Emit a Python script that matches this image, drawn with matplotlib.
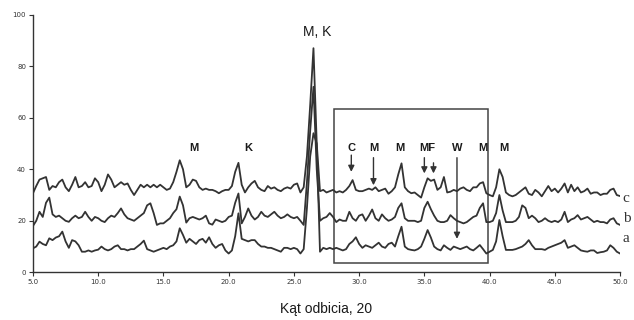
import matplotlib

matplotlib.use("Agg")
import matplotlib.pyplot as plt
import numpy as np
from matplotlib.patches import Rectangle

# diffraction angle grid, 0.25 deg step from 5 to 50
angle = np.linspace(5.0, 50.0, 181)

trace_c = [
    30.7, 33.5, 36, 36.5, 37, 32, 33.5, 33, 35, 36, 33, 31.5,
    34, 37, 33, 33.5, 35, 33, 33.5, 36.5, 35, 31.5, 34, 38,
    36, 33, 34, 35, 34, 34.5, 32, 30, 32, 34, 33, 34,
    33, 34, 33, 34, 33, 32, 32.5, 35, 39, 43.5, 40, 33,
    34, 36, 35.5, 33, 32, 32.5, 32, 32, 31.5, 30.7, 31.5, 32,
    32, 33.5, 39, 42.5, 34, 31, 33, 34.5, 35.5, 33, 32, 31.5,
    33.5, 32.5, 33, 32, 31.5, 32.5, 33, 32.5, 34, 34.5, 31, 33,
    45, 65, 87, 50, 31.5, 32, 31, 31.5, 32, 31, 31.5, 31,
    32, 33.5, 35.8, 32, 31.5, 31.5, 32, 32.5, 32, 33, 31.5, 32,
    32.5, 30.5, 31.5, 33, 38, 42.3, 33, 31.5, 30.7, 31, 30, 29,
    33, 36.5, 35.5, 36, 32, 33, 37, 31, 31.3, 32, 31.5, 32.5,
    33, 32, 31.5, 33, 33, 34.5, 35, 30.7, 30, 29.5, 33, 40,
    37, 31, 30, 29.5, 30, 31, 32, 33, 30.5, 30, 32, 31,
    29.5, 31.5, 33.5, 31.5, 32.5, 31, 32.5, 34.5, 31, 34, 31.5, 33,
    31, 31.5, 32.5, 30.5, 31, 31, 30, 30.5, 30.5, 32, 32.5, 30,
    29.6,
]

trace_b = [
    18, 20, 23.5, 21.5, 27, 29, 22.5, 21.5, 22, 21, 20, 19.6,
    21, 22, 21, 21.5, 23.5, 21.5, 20, 21.5, 21, 20, 19.5, 21,
    22, 21.5, 23, 24.8, 22.5, 21, 20.5, 20, 21, 22, 23, 26,
    26.8, 23, 18.4, 19, 19, 20, 21, 23, 24.5, 29.4, 26, 19.3,
    21, 21.5, 21, 20.5, 21, 22, 19, 18.5, 20.5, 20, 19.5, 20,
    21.5, 22, 27, 30.6, 19, 21.5, 24.8, 22, 20.5, 21.5, 23.5, 22,
    21.5, 22.5, 23.5, 22, 21, 21.5, 22.5, 21.5, 21, 21.5, 20, 18.4,
    35, 55, 72, 40, 20, 21, 21.5, 23, 21.5, 19.5, 20.5, 20,
    20, 23.5, 21, 20, 22, 22.5, 20, 22, 24.4, 21, 20, 22.5,
    21, 20, 20.5, 21.5, 25, 26.8, 21, 20, 20, 20, 19.5, 20,
    25, 27.4, 24.5, 22, 20, 19.5, 19.5, 20, 22.2, 21, 20, 19.5,
    19, 19.5, 20.5, 21.5, 22, 25, 26.8, 19.5, 19.5, 20, 23, 30,
    24, 19.5, 19.5, 19.5, 20, 21.5, 26, 25, 21, 22, 21, 19.5,
    20, 21, 20, 19.5, 20, 19.5, 20.5, 23.5, 19.5, 20.5, 21, 22.2,
    20.5, 21, 21.5, 20.5, 19.5, 20, 19.5, 19.5, 19, 20.5, 21, 19,
    18.4,
]

trace_a = [
    9.3, 10, 11.9, 11, 10.5, 13.2, 12.5, 13.5, 14, 15.8, 12, 9.5,
    12.5, 12, 10.5, 8, 8, 8.5, 8, 8.5, 8.8, 10, 9, 8.5,
    9, 10, 10.5, 9, 9, 8.5, 9, 9, 10, 11, 12.3, 9,
    8.5, 8, 8.5, 9, 9.5, 9, 10, 10.5, 12, 17.1, 14.5, 11.5,
    13, 12, 11, 12.5, 13, 11.5, 13.6, 11, 9.5, 10.5, 11, 8.5,
    7.3, 8.5, 14, 22.9, 13, 12.5, 12, 12.5, 12.5, 11, 10, 10,
    9.5, 9.5, 9, 8.5, 8, 9.5, 9.5, 9, 9.5, 9, 7.3, 9,
    25, 45, 54, 50, 8, 9.5, 9, 9.5, 9, 9.5, 9, 8.5,
    9, 11, 12, 13.6, 11, 9.5, 10.5, 10, 9.5, 10.5, 11.5, 10,
    9.5, 11, 11.5, 10, 14, 17.7, 10, 9, 8.7, 8.5, 9, 10,
    13, 16.4, 13.5, 10, 9, 8.5, 10.5, 9.5, 8.7, 10, 9.5, 9,
    9.5, 10, 9, 8.5, 9.5, 10.6, 9, 7.3, 8, 8.7, 12, 20.3,
    14, 8.7, 8.7, 8.7, 9, 9.5, 10, 11, 12.5, 10.5, 9, 9,
    9, 8.7, 9.5, 10, 10.5, 11, 11.5, 12.5, 9.5, 10, 10.5, 9.5,
    8.5, 8.2, 8, 8.5, 8.5, 7.5, 7.8, 8, 8.5, 10.5, 9.5, 8,
    7.3,
]

series_names = ["c", "b", "a"]
series_label_y = [28.5, 21.0, 13.2]
x_ticks = [5, 10, 15, 20, 25, 30, 35, 40, 45, 50]
y_ticks = [0, 20, 40, 60, 80, 100]

# phase labels: (text, angle, intensity)
phase_labels = [
    ("M", 17.3, 46.5), ("K", 21.5, 46.5),
    ("C", 29.4, 46.5), ("M", 31.1, 46.5), ("M", 33.1, 46.5),
    ("MF", 35.2, 46.5), ("W", 37.5, 46.5), ("M", 39.5, 46.5),
    ("M", 41.1, 46.5),
]
# arrows: (angle, start, end)
arrows = [
    (29.4, 45.5, 39.0), (31.1, 44.5, 33.8), (35.0, 44.5, 38.4),
    (35.7, 42.5, 38.4), (37.5, 44.5, 13.0),
]
box = (28.1, 3.8, 39.9, 63.5)

fig = plt.figure(figsize=(6.34, 3.20), dpi=100, facecolor="white")
ax = fig.add_axes([0.052, 0.149, 0.926, 0.805])

line_kw = dict(color="#333333", linewidth=1.3, solid_joinstyle="round")
for y in (trace_a, trace_b, trace_c):
    ax.plot(angle, y, **line_kw)

ax.add_patch(Rectangle((box[0], box[1]), box[2] - box[0], box[3] - box[1],
                       fill=False, edgecolor="#444444", linewidth=1.1))

for txt, xx, yy in phase_labels:
    ax.text(xx, yy, txt, ha="center", va="bottom", fontsize=8,
            fontweight="bold", family="Liberation Sans", color="#1a1a1a")
ax.text(26.8, 90.5, "M, K", ha="center", va="bottom", fontsize=10,
        family="Liberation Sans", color="#1a1a1a")

for xx, y0, y1 in arrows:
    ax.annotate("", xy=(xx, y1), xytext=(xx, y0),
                arrowprops=dict(arrowstyle="-|>", color="#333333", lw=1.0,
                                mutation_scale=9, shrinkA=0, shrinkB=0))

for name, yy in zip(series_names, series_label_y):
    ax.text(50.2, yy, name, ha="left", va="center", fontsize=11,
            family="Liberation Serif", color="#333333", clip_on=False)

ax.set_xlim(5, 50)
ax.set_ylim(0, 100)
ax.set_xticks(x_ticks)
ax.set_xticklabels([f"{t:.1f}" for t in x_ticks])
ax.set_yticks(y_ticks)
ax.tick_params(labelsize=5, length=3, width=0.8, colors="#333333", pad=2)
for side in ("top", "right"):
    ax.spines[side].set_visible(False)
for side in ("left", "bottom"):
    ax.spines[side].set_color("#333333")
    ax.spines[side].set_linewidth(1.0)

ax.set_xlabel("Kąt odbicia, 20", fontsize=10, family="Liberation Sans",
              color="#1a1a1a", labelpad=12)

fig.savefig("out.png", dpi=100, facecolor="white")
